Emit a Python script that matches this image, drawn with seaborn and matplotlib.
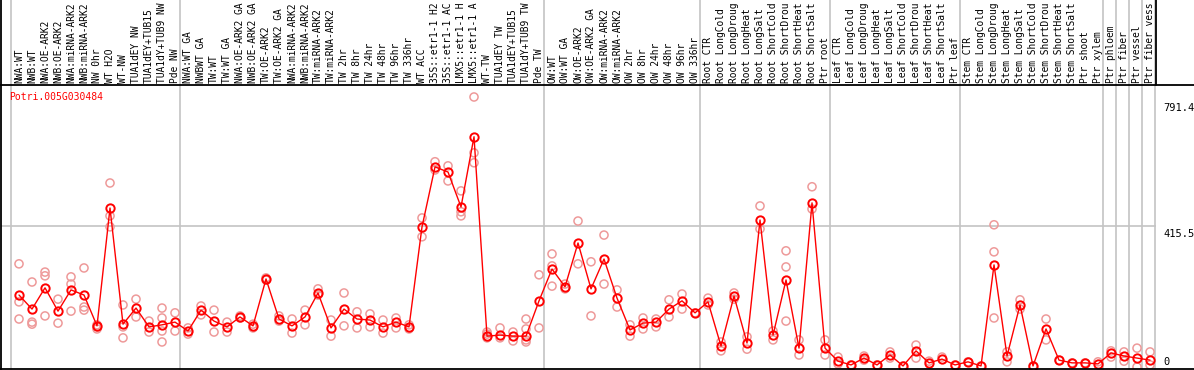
import numpy as np
import pandas as pd
import seaborn as sns
import matplotlib.pyplot as plt
from matplotlib.lines import Line2D

gene = 'Potri.005G030484'

# sample names as the header shows them (cut to 14 characters)
labels = ['NWA:WT', 'NWB:WT', 'NWA:OE-ARK2', 'NWB:OE-ARK2', 'NWA:miRNA-ARK2',
          'NWB:miRNA-ARK2', 'NW 0hr', 'WT H2O', 'WT-NW', 'TUA1dEY NW',
          'TUA1dEY+TUB15', 'TUA1dY+TUB9 NW', 'Pde NW',
          'NWA:WT GA', 'NWBWT GA', 'TW:WT', 'TW:WT GA', 'NWA:OE-ARK2 GA',
          'NWB:OE-ARK2 GA', 'TW:OE-ARK2', 'TW:OE-ARK2 GA', 'NWA:miRNA-ARK2',
          'NWB:miRNA-ARK2', 'TW:miRNA-ARK2', 'TW:miRNA-ARK2', 'TW 2hr', 'TW 8hr',
          'TW 24hr', 'TW 48hr', 'TW 96hr', 'TW 336hr', 'WT ACC',
          '35S::etr1-1 H2', '35S::etr1-1 AC', 'LMX5::etr1-1 H',
          'LMX5::etr1-1 A', 'WT-TW', 'TUA1dEY TW', 'TUA1dEY+TUB15',
          'TUA1dY+TUB9 TW', 'Pde TW',
          'OW:WT', 'OW:WT GA', 'OW:OE-ARK2', 'OW:OE-ARK2 GA', 'OW:miRNA-ARK2',
          'OW:miRNA-ARK2', 'OW 2hr', 'OW 8hr', 'OW 24hr', 'OW 48hr', 'OW 96hr',
          'OW 336hr',
          'Root CTR', 'Root LongCold', 'Root LongDroug', 'Root LongHeat',
          'Root LongSalt', 'Root ShortCold', 'Root ShortDrou',
          'Root ShortHeat', 'Root ShortSalt', 'Ptr root',
          'Leaf CTR', 'Leaf LongCold', 'Leaf LongDroug', 'Leaf LongHeat',
          'Leaf LongSalt', 'Leaf ShortCold', 'Leaf ShortDrou',
          'Leaf ShortHeat', 'Leaf ShortSalt', 'Ptr leaf',
          'Stem CTR', 'Stem LongCold', 'Stem LongDroug', 'Stem LongHeat',
          'Stem LongSalt', 'Stem ShortCold', 'Stem ShortDrou',
          'Stem ShortHeat', 'Stem ShortSalt', 'Ptr shoot', 'Ptr xylem',
          'Ptr phloem', 'Ptr fiber', 'Ptr vessel', 'Ptr fiber vess']

# first sample index of each block (separated by grey lines)
group_starts = [0, 13, 41, 53, 63, 73, 84, 85, 86, 87, 88]

mean_vals = [213, 172, 234, 166, 228, 213, 123, 467, 128, 175, 120, 126, 134,
             108, 169, 137, 120, 149, 123, 260, 143, 123, 149, 219, 117, 172,
             143, 140, 120, 134, 120, 412, 587, 572, 470, 675, 93, 96, 93, 93,
             196, 289, 237, 365, 231, 318, 204, 111, 131, 134, 172, 196, 161,
             193, 64, 210, 73, 432, 96, 257, 58, 482, 58, 20, 9, 29, 9, 38, 6,
             50, 15, 26, 9, 18, 6, 301, 35, 184, 6, 114, 23, 15, 15, 12, 44,
             35, 29, 23]

rep_vals = [[304, 193, 143], [251, 134, 128], [280, 269, 152], [201, 131],
            [266, 245, 166], [292, 178, 169], [114, 120, 126], [540, 444, 412],
            [184, 120, 88], [201, 149], [137, 105], [175, 146, 108, 76],
            [161, 108], [117, 99], [181, 155], [169, 105], [134, 105],
            [152, 146], [128, 117], [263, 257], [152, 137], [143, 102],
            [169, 126], [231, 213], [140, 93], [219, 123], [164, 117],
            [158, 120], [140, 102], [146, 117], [126, 114], [438, 383],
            [602, 578], [590, 546], [517, 456, 444], [791, 628, 599],
            [105, 99, 88], [117, 88], [79, 105], [143, 114, 76, 82],
            [272, 117], [333, 298, 239], [245, 231], [304, 429], [310, 152],
            [388, 245], [228, 178], [126, 93], [146, 114], [143, 120],
            [199, 149], [216, 172], [161], [204, 184], [50, 76], [219, 201],
            [91, 55], [473, 406], [108, 82], [342, 295, 137], [82, 38],
            [529, 464], [82, 38], [32, 12], [9], [35, 23], [9], [47, 29],
            [6], [67, 29], [20], [32], [9], [18], [6], [339, 146, 418],
            [47, 18], [199, 172], [6], [143, 82], [23], [15], [15], [18],
            [50, 32], [47, 20], [58, 3], [47, 9]]

y_ticks = [0, 415.5, 791.4]
y_tick_text = ['0', '415.5', '791.4']

W, H = 1194, 370
fig = plt.figure(figsize=(W / 100, H / 100), dpi=100)
sns.set_style('white')
plt.rcParams['font.family'] = ['DejaVu Sans Mono']

# axes in pixel terms: x 1..1156, y 85..369 (from top)
ax = fig.add_axes([1 / W, 1 / H, 1155 / W, 284 / H])
idx = np.arange(len(labels))

rep_df = pd.DataFrame([(i, v) for i, vals in enumerate(rep_vals) for v in vals],
                      columns=['sample', 'value'])
sns.scatterplot(data=rep_df, x='sample', y='value', ax=ax, marker='o', s=34,
                edgecolor='#ee9a9a', linewidth=1.1, zorder=3, legend=False)
ax.collections[-1].set_facecolor('none')

sns.lineplot(x=idx, y=mean_vals, ax=ax, color='red', linewidth=1.0,
             marker='o', markersize=6, markerfacecolor='none',
             markeredgecolor='red', markeredgewidth=1.4, zorder=4)

ax.set_xlim(-1.385, 87.46)
ax.set_ylim(-2.9, 826)
ax.set_xticks([])
ax.set_yticks([])
ax.set_xlabel('')
ax.set_ylabel('')

ax.axhline(415.5, color='#c4c4c4', linewidth=1.2, zorder=1)
for g in group_starts:
    ax.axvline(g - 0.6, ymin=0, ymax=1.31, color='#c4c4c4', linewidth=1.2,
               clip_on=False, zorder=1)

for s in ['top', 'right']:
    ax.spines[s].set_visible(False)
ax.spines['left'].set_color('black')
ax.spines['bottom'].set_visible(False)
ax.spines['left'].set_linewidth(1.3)

# full width frame lines and header edge
fig.add_artist(Line2D([0, 1], [1 - 85 / H, 1 - 85 / H], color='black', linewidth=1.3))
fig.add_artist(Line2D([0, 1], [1 - 369 / H, 1 - 369 / H], color='black', linewidth=1.3))
fig.add_artist(Line2D([1 / W, 1 / W], [1 - 85 / H, 1], color='black', linewidth=1.3))
fig.add_artist(Line2D([1156 / W, 1156 / W], [1 - 85 / H, 1], color='black', linewidth=1.3))

# rotated sample labels in the header
for i, lab in enumerate(labels):
    ax.text(i, 1 + 2 / 284, lab, rotation=90, ha='center', va='bottom',
            fontsize=6.9, color='black', clip_on=False,
            transform=ax.get_xaxis_transform())

ax.text(8 / 1155, (369 - 97) / 284, gene, color='red', fontsize=7,
        ha='left', va='center', transform=ax.transAxes)

# value labels on the right
for v, t in zip(y_ticks, y_tick_text):
    va = 'bottom' if v == 0 else 'top'
    off = 1 if v == 0 else (-6 if v > 500 else -3)
    ax.annotate(t, xy=(1, v), xycoords=ax.get_yaxis_transform(),
                xytext=(7, off), textcoords='offset pixels',
                ha='left', va=va, fontsize=7.5, color='black',
                annotation_clip=False)

fig.savefig('out.png', dpi=100)
